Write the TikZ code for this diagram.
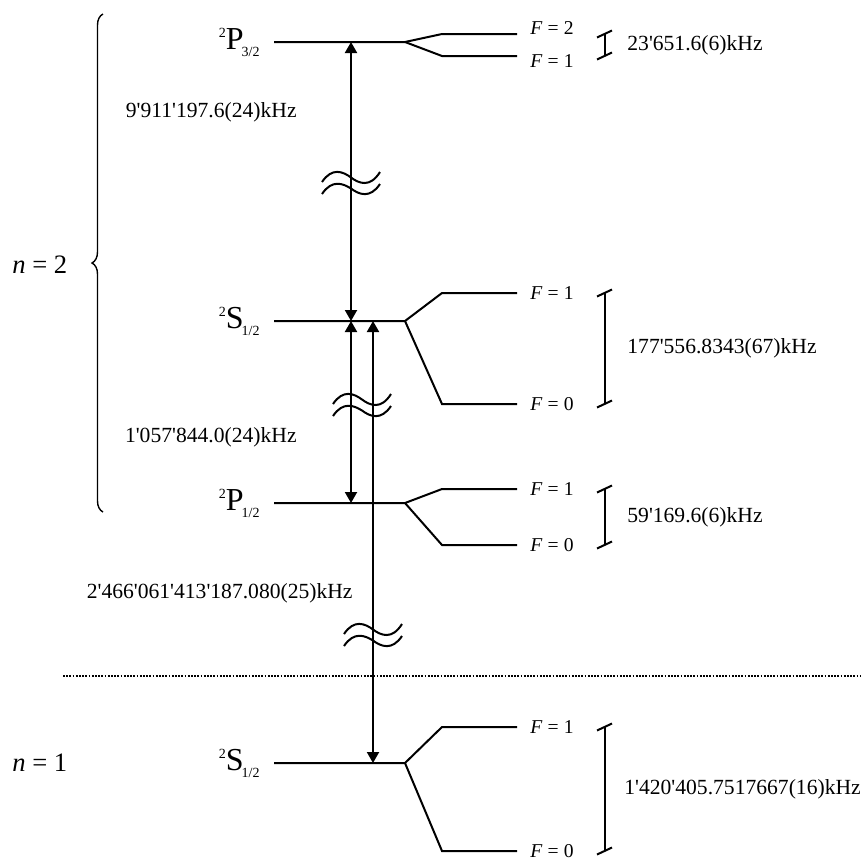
\documentclass[tikz,border=0pt]{standalone}
\usepackage{fontspec}
\setmainfont{Liberation Serif}[Ligatures=TeXOff]
\usetikzlibrary{arrows.meta, positioning, calc, decorations.pathreplacing}

\newcommand{\Fq}[1]{\textit{F}\hspace{2.6pt}=\hspace{2.6pt}#1}
\newcommand{\termsym}[3]{\raisebox{6pt}{\fontsize{7}{7}\selectfont #1}#2\kern-1pt\raisebox{-3.5pt}{\fontsize{7}{7}\selectfont #3}}

\begin{document}
\begin{tikzpicture}[x=0.5pt, y=-0.5pt,
		elevel/.style={line width=1pt},
		trans/.style={line width=1pt, {Triangle[width=6pt,length=5.5pt]}-{Triangle[width=6pt,length=5.5pt]}},
		hfsbar/.style={line width=1pt},
		term/.style={font=\fontsize{16}{18}\selectfont, inner sep=0pt},
		flab/.style={font=\fontsize{9.8}{11}\selectfont, inner sep=0pt},
		freq/.style={font=\fontsize{10.8}{12}\selectfont, inner sep=0pt},
		nlab/.style={font=\fontsize{13.3}{15}\selectfont, inner sep=0pt, anchor=west},
		sepline/.style={line width=0.9pt, dash pattern=on 0.9pt off 0.7pt},
		nbrace/.style={decorate, decoration={brace, amplitude=5.5pt}, line width=0.7pt},
		brkmark/.pic={
			\draw[line width=1pt] (-29,-1) .. controls (-19,-16) and (-8,-11.5) .. (0,-5.5) .. controls (8,0.5) and (19,5) .. (29,-11);
			\draw[line width=1pt] (-29,11) .. controls (-19,-4) and (-8,0.5) .. (0,5.5) .. controls (8,11.5) and (19,16) .. (29,1);
		}
	]
	\useasboundingbox (0,0) rectangle (867,858);

	% 1. Levels with their hyperfine splitting and bars
	\foreach \lv/\y/\yu/\yd in {P32/42/34/56, S22/321/293/404, P12/503/489/545, S11/763/727/851}{
		\coordinate (\lv) at (274,\y);
		\coordinate (\lv-split) at (405,\y);
		\coordinate (\lv-up) at (517,\yu);
		\coordinate (\lv-dn) at (517,\yd);
		\coordinate (\lv-a) at (351,\y);
		\coordinate (\lv-b) at (373,\y);
		\coordinate (\lv-bt) at (605,\yu);
		\coordinate (\lv-bb) at (605,\yd);
		\draw[elevel] (\lv) -- (\lv-split) -- (442,\yu) -- (\lv-up);
		\draw[elevel] (\lv-split) -- (442,\yd) -- (\lv-dn);
		\draw[hfsbar] (\lv-bt) -- (\lv-bb);
		\foreach \e in {bt,bb}
			\draw[hfsbar] ([shift={(-8,3.5)}]\lv-\e) -- ([shift={(7,-3.5)}]\lv-\e);
	}

	% 2. Term symbols
	\node[term, left=7pt of P32] (P32-lab) {\termsym{2}{P}{3/2}};
	\node[term, left=7pt of S22] (S22-lab) {\termsym{2}{S}{1/2}};
	\node[term, left=7pt of P12] (P12-lab) {\termsym{2}{P}{1/2}};
	\node[term, left=7pt of S11] (S11-lab) {\termsym{2}{S}{1/2}};

	% 3. F labels
	\node[flab, right=6.5pt of P32-up, yshift=3pt] (P32-F2) {\Fq{2}};
	\node[flab, right=6.5pt of P32-dn, yshift=-2.5pt] (P32-F1) {\Fq{1}};
	\node[flab, right=6.5pt of S22-up] (S22-F1) {\Fq{1}};
	\node[flab, right=6.5pt of S22-dn] (S22-F0) {\Fq{0}};
	\node[flab, right=6.5pt of P12-up] (P12-F1) {\Fq{1}};
	\node[flab, right=6.5pt of P12-dn] (P12-F0) {\Fq{0}};
	\node[flab, right=6.5pt of S11-up] (S11-F1) {\Fq{1}};
	\node[flab, right=6.5pt of S11-dn] (S11-F0) {\Fq{0}};

	% 4. Hyperfine intervals
	\node[freq, anchor=west] (P32-hfs) at ($(P32-bt)!0.5!(P32-bb)+(22,0)$) {23'651.6(6)kHz};
	\node[freq, anchor=west] (S22-hfs) at ($(S22-bt)!0.5!(S22-bb)+(22,0)$) {177'556.8343(67)kHz};
	\node[freq, anchor=west] (P12-hfs) at ($(P12-bt)!0.5!(P12-bb)+(22,0)$) {59'169.6(6)kHz};
	\node[freq, anchor=west] (S11-hfs) at ($(S11-bt)!0.5!(S11-bb)+(19,0)$) {1'420'405.7517667(16)kHz};

	% 5. Transitions
	\draw[trans] (P32-a) -- (S22-a);
	\draw[trans] (S22-a) -- (P12-a);
	\draw[trans] (S11-b) -- (S22-b);
	\pic at (351,183) {brkmark};
	\pic at (362,405) {brkmark};
	\pic at (373,635) {brkmark};

	\node[freq, anchor=east] (fs-n2) at (297,112) {9'911'197.6(24)kHz};
	\node[freq, anchor=east] (lamb-n2) at (297,437) {1'057'844.0(24)kHz};
	\node[freq, anchor=east] (f1s2s) at (353,593) {2'466'061'413'187.080(25)kHz};

	% 6. Shells
	\coordinate (brTop) at (103,14);
	\coordinate (brBot) at (103,512);
	\draw[nbrace] (brBot) -- (brTop);
	\node[nlab] (n2) at (12,265) {\textit{n} = 2};
	\node[nlab] (n1) at (12,763) {\textit{n} = 1};

	\coordinate (sepL) at (63,676);
	\coordinate (sepR) at (860,676);
	\draw[sepline] (sepL) -- (sepR);

\end{tikzpicture}
\end{document}
